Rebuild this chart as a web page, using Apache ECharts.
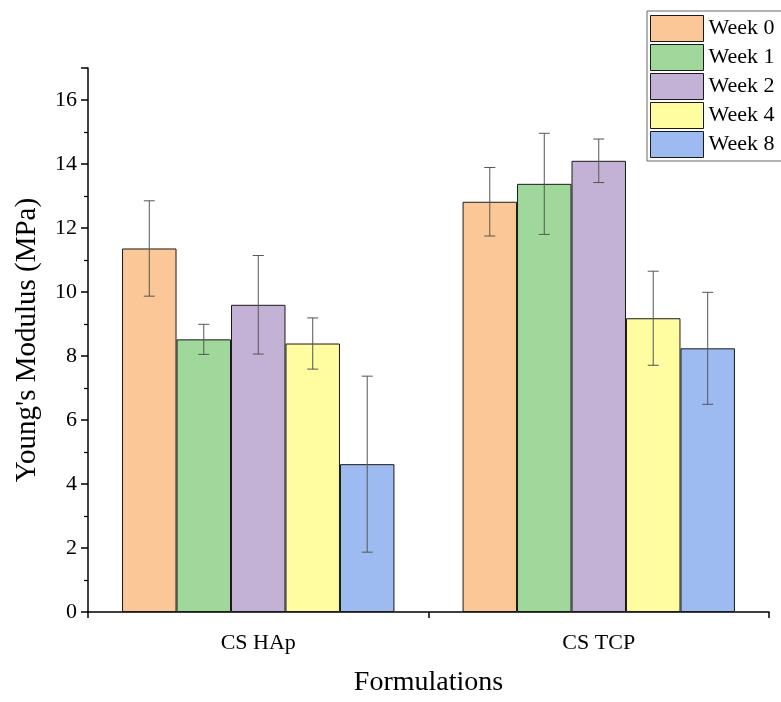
<!DOCTYPE html>
<html>
<head>
<meta charset="utf-8">
<script src="https://cdn.jsdelivr.net/npm/echarts@6/dist/echarts.min.js"></script>
<style>html,body{margin:0;padding:0;background:#fff}#c{width:781px;height:702px}</style>
</head>
<body>
<div id="c"></div>
<script>
var categories = ['CS HAp', 'CS TCP'];
var seriesNames = ['Week 0', 'Week 1', 'Week 2', 'Week 4', 'Week 8'];
var week0 = [11.36, 12.82];
var week1 = [8.52, 13.38];
var week2 = [9.60, 14.10];
var week4 = [8.39, 9.18];
var week8 = [4.62, 8.24];
var err0 = [1.49, 1.07];
var err1 = [0.47, 1.58];
var err2 = [1.54, 0.68];
var err4 = [0.80, 1.47];
var err8 = [2.75, 1.75];
var yTicks = [0, 2, 4, 6, 8, 10, 12, 14, 16];

var colors = ['#FBC796', '#A0D89C', '#C3B2D6', '#FFFD9F', '#9EBBF1'];
var values = [week0, week1, week2, week4, week8];
var errs = [err0, err1, err2, err4, err8];
var font = "'Liberation Serif', 'DejaVu Serif', serif";
var catGap = 0.2;

var series = [];
for (var i = 0; i < 5; i++) {
  series.push({
    name: seriesNames[i],
    type: 'bar',
    data: values[i],
    barGap: '0%',
    barCategoryGap: (catGap * 100) + '%',
    itemStyle: { color: colors[i], borderColor: '#1a1a1a', borderWidth: 1 },
    z: 2
  });
}
var errData = [];
for (var s = 0; s < 5; s++) {
  for (var c = 0; c < categories.length; c++) {
    errData.push([c, values[s][c], errs[s][c], s]);
  }
}
series.push({
  type: 'custom',
  silent: true,
  z: 5,
  data: errData,
  encode: { x: 0, y: 1 },
  renderItem: function (params, api) {
    var ci = api.value(0), v = api.value(1), e = api.value(2), si = api.value(3);
    var center = api.coord([ci, v]);
    var catW = api.size([1, 0])[0];
    var bw = catW * (1 - catGap) / 5;
    var x = center[0] + (si - 2) * bw;
    var top = api.coord([ci, v + e])[1];
    var bot = api.coord([ci, v - e])[1];
    var hw = 5.5;
    var st = { stroke: '#555555', lineWidth: 1 };
    return {
      type: 'group',
      children: [
        { type: 'line', shape: { x1: x, y1: top, x2: x, y2: bot }, style: st },
        { type: 'line', shape: { x1: x - hw, y1: top, x2: x + hw, y2: top }, style: st },
        { type: 'line', shape: { x1: x - hw, y1: bot, x2: x + hw, y2: bot }, style: st }
      ]
    };
  }
});

var chart = echarts.init(document.getElementById('c'), null, { renderer: 'canvas' });
chart.setOption({
  animation: false,
  backgroundColor: '#ffffff',
  grid: { left: 88, right: 12, top: 68, bottom: 83, containLabel: false },
  legend: {
    orient: 'vertical',
    left: 647,
    top: 11,
    icon: 'rect',
    itemWidth: 53,
    itemHeight: 26,
    itemGap: 2,
    padding: [4, 20, 3, 3],
    borderColor: '#666666',
    borderWidth: 1,
    backgroundColor: '#ffffff',
    data: seriesNames,
    textStyle: { fontFamily: font, fontSize: 22, color: '#000', padding: [0, 0, 0, 0] },
    itemStyle: { borderColor: '#1a1a1a', borderWidth: 1 }
  },
  xAxis: [{
    type: 'category',
    data: categories,
    position: 'bottom',
    name: 'Formulations',
    nameLocation: 'middle',
    nameGap: 57,
    nameTextStyle: { fontFamily: font, fontSize: 28, color: '#000' },
    axisLine: { lineStyle: { color: '#000', width: 1.5 } },
    axisTick: { alignWithLabel: true, length: 6, lineStyle: { color: '#000', width: 1.5 } },
    axisLabel: { fontFamily: font, fontSize: 22, color: '#000', margin: 20 },
    splitLine: { show: false }
  }, {
    type: 'category',
    data: categories,
    position: 'bottom',
    axisLine: { show: false },
    axisTick: { show: true, length: 6, lineStyle: { color: '#000', width: 1.5 } },
    axisLabel: { show: false },
    splitLine: { show: false }
  }],
  yAxis: {
    type: 'value',
    min: 0,
    max: 17,
    interval: 2,
    name: "Young's Modulus (MPa)",
    nameLocation: 'middle',
    nameGap: 46,
    nameTextStyle: { fontFamily: font, fontSize: 29, color: '#000' },
    axisLine: { show: true, lineStyle: { color: '#000', width: 1.5 } },
    axisTick: { show: true, length: 7, lineStyle: { color: '#000', width: 1.5 } },
    minorTick: { show: true, splitNumber: 2, length: 4, lineStyle: { color: '#000', width: 1.2 } },
    axisLabel: {
      fontFamily: font, fontSize: 22, color: '#000', margin: 11,
      formatter: function (v) { return yTicks.indexOf(v) >= 0 ? String(v) : ''; }
    },
    splitLine: { show: false }
  },
  series: series
});
</script>
</body>
</html>
